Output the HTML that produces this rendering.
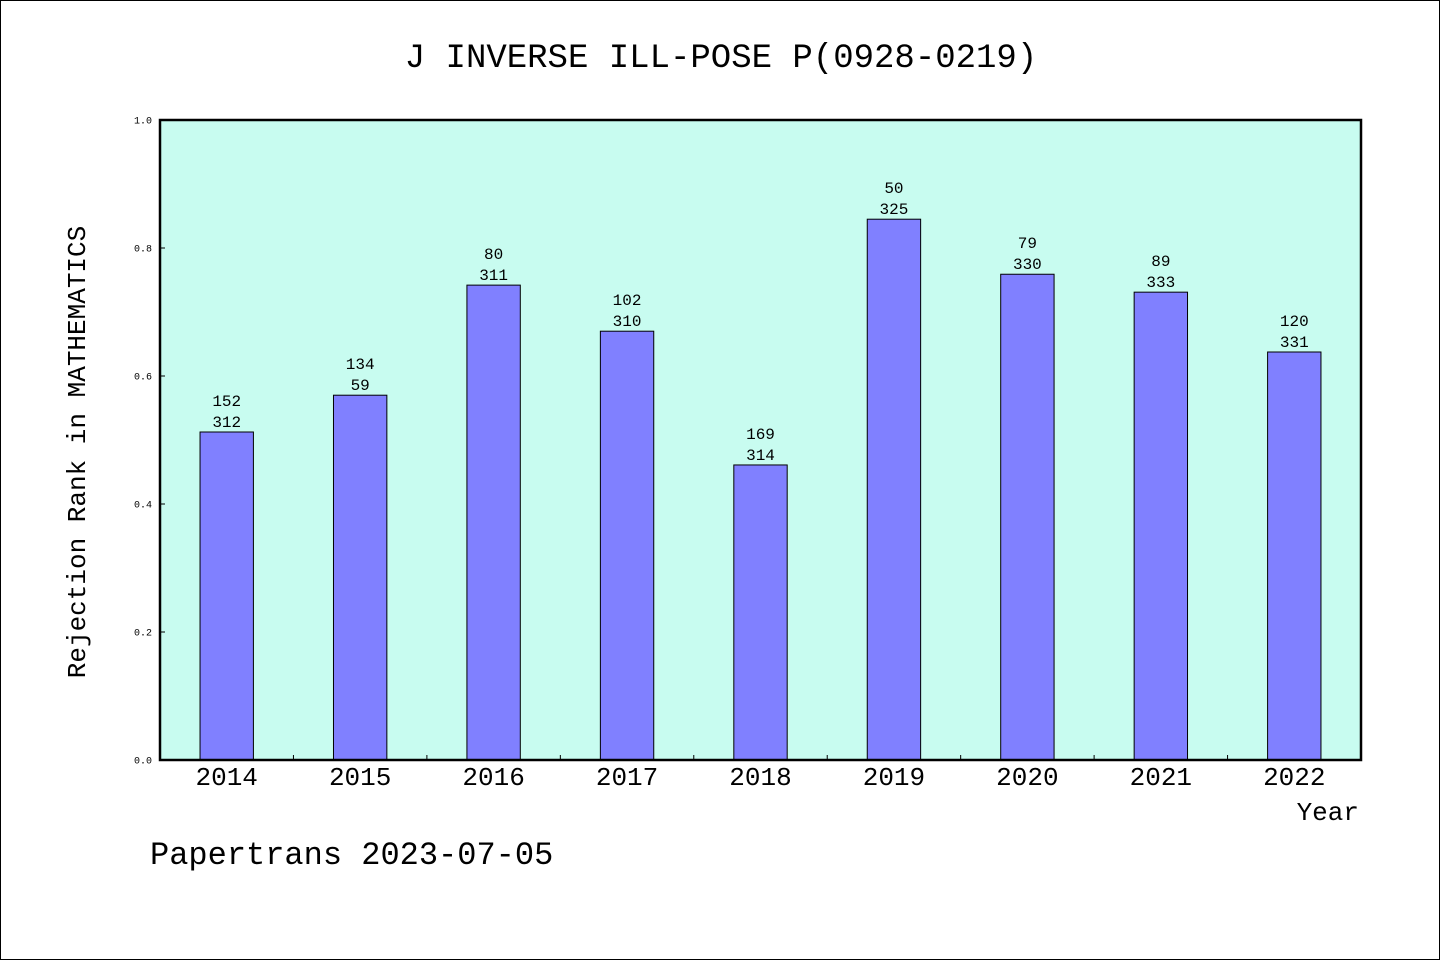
<!DOCTYPE html>
<html><head><meta charset="utf-8">
<style>
html,body{margin:0;padding:0;background:#fff;}
body{width:1440px;height:960px;overflow:hidden;}
svg text{font-family:"WenQuanYi Zen Hei","Liberation Mono",monospace;fill:#000;}
</style></head>
<body>
<svg id="chart" width="1440" height="960" xmlns="http://www.w3.org/2000/svg">
<rect x="0.5" y="0.5" width="1439" height="959" fill="#fff" stroke="#000" stroke-width="1"/>
<text x="721" y="67" text-anchor="middle" font-size="34">J INVERSE ILL-POSE P(0928-0219)</text>
<rect x="160" y="120" width="1201" height="640" fill="#c8fcf0"/>
<g id="bars"></g>
<g id="yaxis"></g>
<g id="xaxis"></g>
<rect x="160" y="120" width="1201" height="640" fill="none" stroke="#000" stroke-width="2.5"/>
<text x="85" y="452" text-anchor="middle" font-size="26" transform="rotate(-90 85 452)">Rejection Rank in MATHEMATICS</text>
<text x="1359" y="820" text-anchor="end" font-size="26">Year</text>
<text x="150" y="864" font-size="32">Papertrans 2023-07-05</text>
</svg>
<script>
const categories = ["2014","2015","2016","2017","2018","2019","2020","2021","2022"];
const values = [0.5125,0.570,0.742,0.670,0.461,0.845,0.759,0.731,0.6375];
const topLabels = ["152","134","80","102","169","50","79","89","120"];
const bottomLabels = ["312","59","311","310","314","325","330","333","331"];
const yTicks = [0.0,0.2,0.4,0.6,0.8,1.0];
const tickLabels = ["0.0","0.2","0.4","0.6","0.8","1.0"];

const NS="http://www.w3.org/2000/svg";
const X0=160,X1=1361,Y0=760,Y1=120,yMin=0,yMax=1;
const band=(X1-X0)/categories.length;
function xCenter(i){return X0+band*(i+0.5);}
function yScale(v){return Y0-(v-yMin)/(yMax-yMin)*(Y0-Y1);}
function mk(tag,attrs,parent){const e=document.createElementNS(NS,tag);for(const k in attrs)e.setAttribute(k,attrs[k]);parent.appendChild(e);return e;}
const gb=document.getElementById('bars'),gy=document.getElementById('yaxis'),gx=document.getElementById('xaxis');
const bw=band*0.4;
categories.forEach((c,i)=>{
  const cx=xCenter(i),y=yScale(values[i]);
  const r=mk('rect',{x:cx-bw/2,y:y,width:bw,height:Y0-y,fill:'#8080ff',stroke:'#000','stroke-width':1},gb);
  
  
  const t1=mk('text',{x:cx,y:y-26,'text-anchor':'middle','font-size':16},gb);
  t1.textContent=topLabels[i];
  
  
  const t2=mk('text',{x:cx,y:y-5,'text-anchor':'middle','font-size':16},gb);
  t2.textContent=bottomLabels[i];
  
  
  const xl=mk('text',{x:cx,y:785,'text-anchor':'middle','font-size':26},gx);
  xl.textContent=c;
  
  
  if(i>0){
    const tk=mk('line',{x1:X0+band*i,x2:X0+band*i,y1:Y0,y2:Y0-5,stroke:'#000','stroke-width':1},gx);
    
    
  }
});
yTicks.forEach((v,i)=>{
  const y=yScale(v);
  const tk=mk('line',{x1:X0,x2:X0+5,y1:y,y2:y,stroke:'#000','stroke-width':1},gy);
  
  
  const t=mk('text',{x:152,y:y+3.5,'text-anchor':'end','font-size':10},gy);
  t.textContent=tickLabels[i];
  
  
});
</script>
</body></html>
